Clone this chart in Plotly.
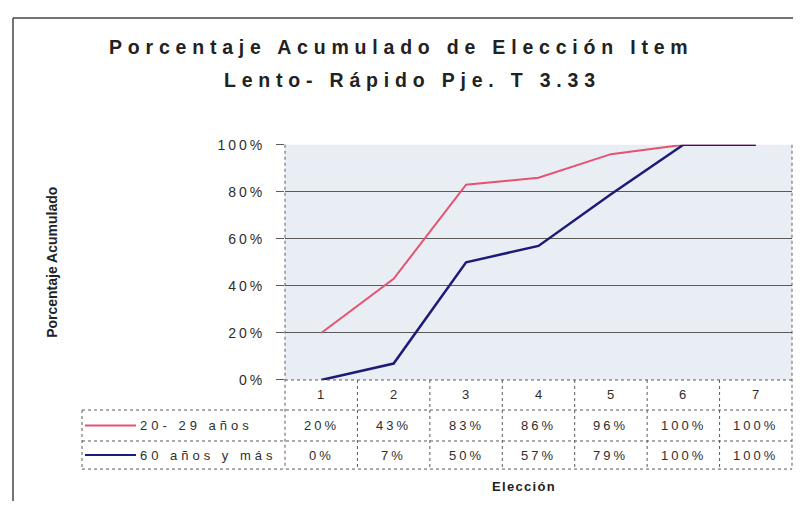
import plotly.graph_objects as go

# page body has an 8px default margin on every side; keep the figure inside the window
OFF = 8
W, H = 801 - 2 * OFF, 517 - 2 * OFF

categories = [1, 2, 3, 4, 5, 6, 7]
series_names = ["20- 29 años", "60 años y más"]
young = [0.20, 0.43, 0.83, 0.86, 0.96, 1.00, 1.00]
old = [0.00, 0.07, 0.50, 0.57, 0.79, 1.00, 1.00]
young_labels = ["20%", "43%", "83%", "86%", "96%", "100%", "100%"]
old_labels = ["0%", "7%", "50%", "57%", "79%", "100%", "100%"]
y_ticks = [0, 0.2, 0.4, 0.6, 0.8, 1.0]
y_ticktext = ["0%", "20%", "40%", "60%", "80%", "100%"]

RED = "#e5536e"
BLUE = "#1c1c78"
FONT = "Liberation Sans, Arial, sans-serif"
TXT = "#2e2e2e"


def px(x):
    return (x - OFF) / W


def py(y):
    return 1 - (y - OFF) / H


def spaced(t, ls):
    return f'<span style="letter-spacing:{ls}px">{t}</span>'


X0, X1 = px(285), px(792)
Y_TOP, Y_BOT = 141, 384
ROWS = [384, 415, 447, 476]
LEG_X = px(82)

fig = go.Figure()
fig.add_trace(go.Scatter(x=categories, y=young, mode="lines",
                         line=dict(color=RED, width=2), name=series_names[0],
                         showlegend=False))
fig.add_trace(go.Scatter(x=categories, y=old, mode="lines",
                         line=dict(color=BLUE, width=2.5), name=series_names[1],
                         showlegend=False))

shapes = []
grid = "#5a5a5a"
dot = dict(color=grid, width=1, dash="dot")
# plot frame (dotted left/right)
shapes.append(dict(type="line", xref="paper", yref="paper", x0=X0, x1=X0,
                   y0=py(Y_TOP), y1=py(ROWS[-1]), line=dot))
shapes.append(dict(type="line", xref="paper", yref="paper", x0=X1, x1=X1,
                   y0=py(Y_TOP), y1=py(ROWS[-1]), line=dot))
# table horizontal lines
shapes.append(dict(type="line", xref="paper", yref="paper", x0=X0, x1=X1,
                   y0=py(ROWS[0]), y1=py(ROWS[0]), line=dot))
for r in ROWS[1:]:
    shapes.append(dict(type="line", xref="paper", yref="paper", x0=LEG_X, x1=X1,
                       y0=py(r), y1=py(r), line=dot))
# legend column left border
shapes.append(dict(type="line", xref="paper", yref="paper", x0=LEG_X, x1=LEG_X,
                   y0=py(ROWS[1]), y1=py(ROWS[-1]), line=dot))
# interior column separators
for c in categories[:-1]:
    shapes.append(dict(type="line", xref="x", yref="paper", x0=c + 0.5, x1=c + 0.5,
                       y0=py(ROWS[0]), y1=py(ROWS[-1]), line=dot))
# legend swatches
for r0, r1, col in [(ROWS[1], ROWS[2], RED), (ROWS[2], ROWS[3], BLUE)]:
    yc = py((r0 + r1) / 2)
    shapes.append(dict(type="line", xref="paper", yref="paper", x0=px(85), x1=px(136),
                       y0=yc, y1=yc, line=dict(color=col, width=2)))
# outer chart frame (left and top edges visible)
shapes.append(dict(type="line", xref="paper", yref="paper", x0=px(13), x1=1,
                   y0=py(10), y1=py(10), line=dict(color="#444", width=1.5)))
shapes.append(dict(type="line", xref="paper", yref="paper", x0=px(13), x1=px(13),
                   y0=0, y1=py(10), line=dict(color="#444", width=1.5)))

ann = []
# title
ann.append(dict(text="<b>" + spaced("Porcentaje Acumulado de Elección Item", 5.8) + "</b>",
                xref="paper", yref="paper", x=px(401), y=py(40), showarrow=False,
                font=dict(family=FONT, size=19.5, color="#222"), xanchor="center", yanchor="middle"))
ann.append(dict(text="<b>" + spaced("Lento- Rápido Pje. T 3.33", 5.8) + "</b>",
                xref="paper", yref="paper", x=px(412), y=py(74), showarrow=False,
                font=dict(family=FONT, size=19.5, color="#222"), xanchor="center", yanchor="middle"))
# y title
ann.append(dict(text="<b>Porcentaje Acumulado</b>", xref="paper", yref="paper",
                x=px(52), y=py(263), textangle=-90, showarrow=False,
                font=dict(family=FONT, size=14, color="#222"), xanchor="center", yanchor="middle"))
# x title
ann.append(dict(text="<b>" + spaced("Elección", 1.3) + "</b>", xref="paper", yref="paper",
                x=px(524), y=py(494), showarrow=False,
                font=dict(family=FONT, size=13, color="#222"), xanchor="center", yanchor="middle"))
# table contents
rc = [(ROWS[i] + ROWS[i + 1]) / 2 for i in range(3)]
cell_font = dict(family=FONT, size=13, color=TXT)
for c in categories:
    ann.append(dict(text=spaced(str(c), 1), xref="x", yref="paper", x=c, y=py(rc[0]),
                    xanchor="center", yanchor="middle", showarrow=False, font=cell_font))
for c, t in zip(categories, young_labels):
    ann.append(dict(text=spaced(t, 3), xref="x", yref="paper", x=c, y=py(rc[1]),
                    xanchor="center", yanchor="middle", showarrow=False, font=cell_font))
for c, t in zip(categories, old_labels):
    ann.append(dict(text=spaced(t, 3), xref="x", yref="paper", x=c, y=py(rc[2]),
                    xanchor="center", yanchor="middle", showarrow=False, font=cell_font))
for name, yc in zip(series_names, rc[1:]):
    ann.append(dict(text=spaced(name, 4), xref="paper", yref="paper", x=px(138), y=py(yc),
                    xanchor="left", yanchor="middle", showarrow=False, font=cell_font))

fig.update_layout(
    width=W, height=H,
    margin=dict(l=0, r=0, t=0, b=0),
    paper_bgcolor="white",
    plot_bgcolor="#e9eef4",
    showlegend=False,
    xaxis=dict(domain=[X0, X1], range=[0.5, 7.5], showticklabels=False, showgrid=False,
               zeroline=False, showline=False, ticks=""),
    yaxis=dict(domain=[py(Y_BOT), py(Y_TOP)], range=[0, 1], tickvals=y_ticks,
               ticktext=[spaced(t, 3) for t in y_ticktext],
               showgrid=True, gridcolor=grid, gridwidth=1, zeroline=False,
               showline=False, ticks="outside", ticklen=8, tickcolor=grid,
               ticklabelstandoff=8,
               tickfont=dict(family=FONT, size=14, color=TXT)),
    shapes=shapes,
    annotations=ann,
)

fig.write_html("out.html")
